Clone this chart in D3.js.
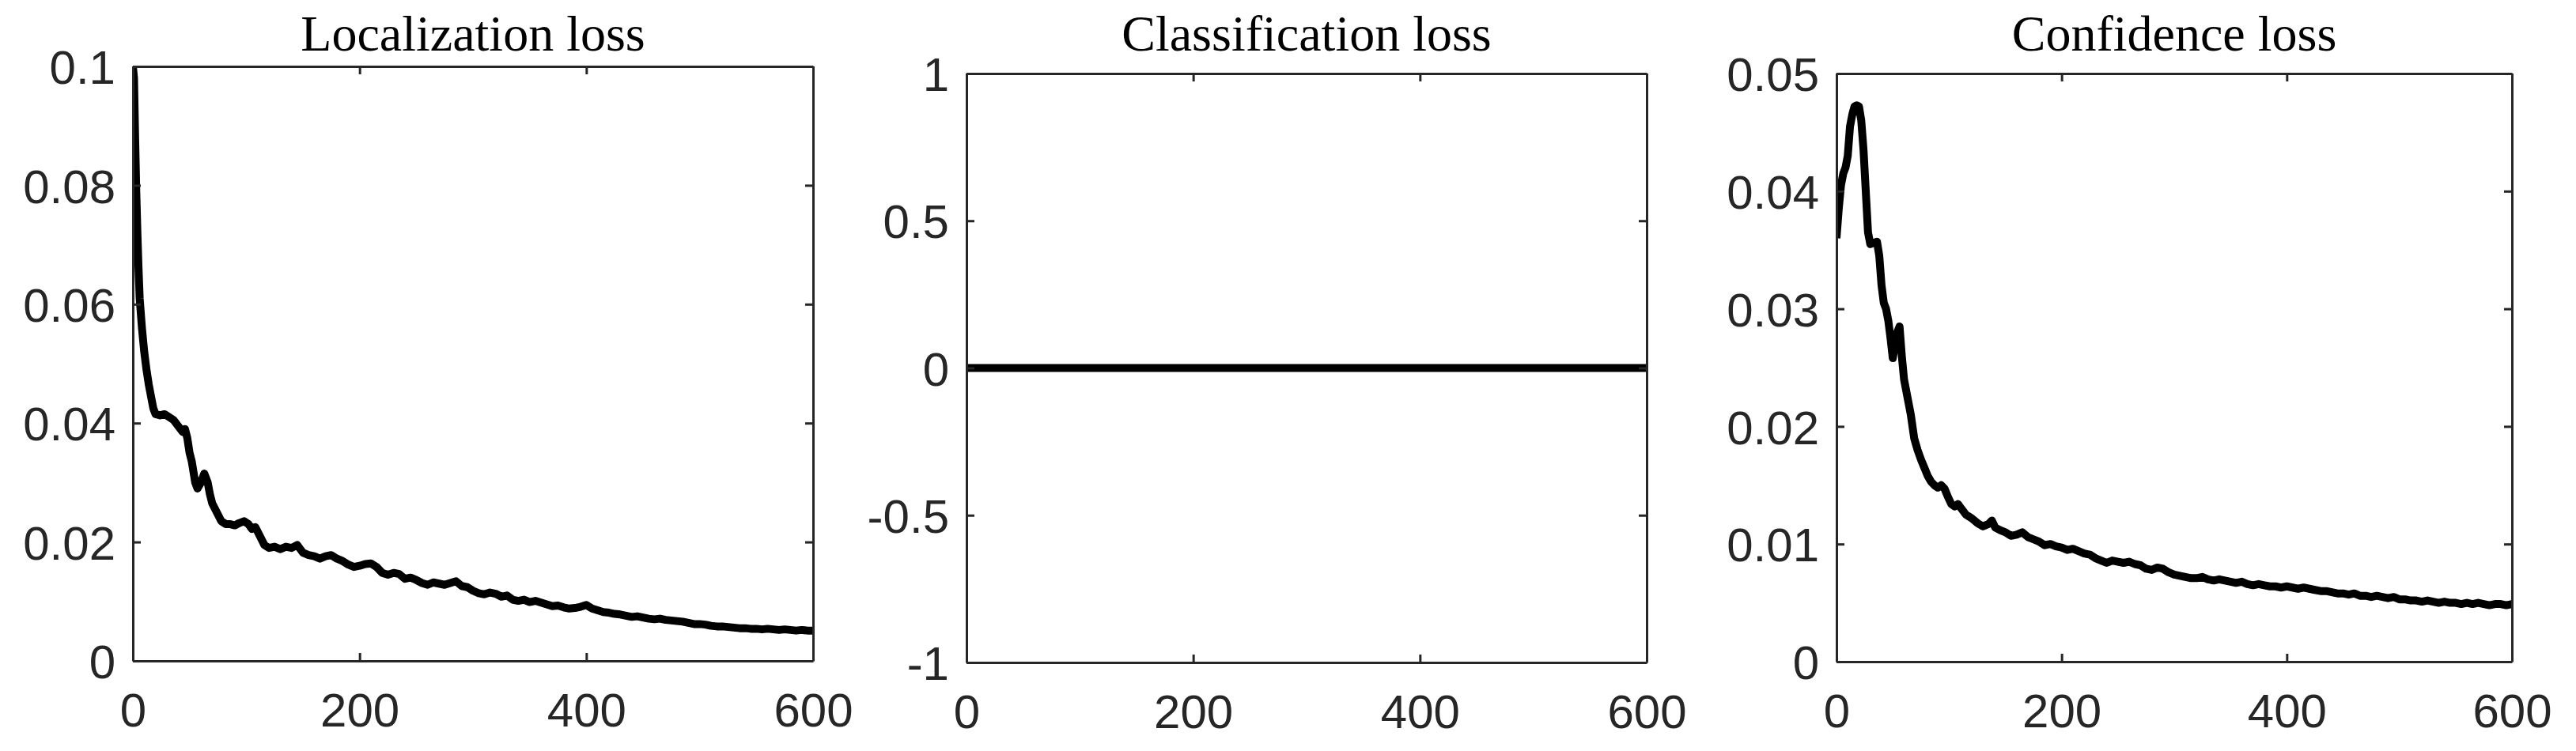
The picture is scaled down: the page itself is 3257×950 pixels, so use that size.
<!DOCTYPE html>
<html>
<head>
<meta charset="utf-8">
<script src="https://cdn.jsdelivr.net/npm/d3@7"></script>
<style>
  html, body { margin: 0; padding: 0; background: #fff; }
  svg { display: block; }
</style>
</head>
<body>
<svg id="chart" width="3257" height="950"></svg>
<script>
// ---------------- DATA ----------------
const titles = ["Localization loss", "Classification loss", "Confidence loss"];

const xTicks = [0, 200, 400, 600];
const xTickLabels = ["0", "200", "400", "600"];

const locYTicks = [0, 0.02, 0.04, 0.06, 0.08, 0.1];
const locYTickLabels = ["0", "0.02", "0.04", "0.06", "0.08", "0.1"];
const clsYTicks = [-1, -0.5, 0, 0.5, 1];
const clsYTickLabels = ["-1", "-0.5", "0", "0.5", "1"];
const confYTicks = [0, 0.01, 0.02, 0.03, 0.04, 0.05];
const confYTickLabels = ["0", "0.01", "0.02", "0.03", "0.04", "0.05"];

const locIter = [0,1,2,3,4,5,6,8,10,12,14,16,18,20,24,28,32,36,40,44,46,48,50,52,55,57,60,63,66,68,70,74,78,82,86,90,94,98,102,105,108,112,116,120,125,130,135,140,145,150,155,160,165,170,175,180,185,190,195,200,205,210,215,220,225,230,235,240,245,250,255,260,265,270,275,280,285,290,295,300,305,310,315,320,325,330,335,340,345,350,355,360,365,370,375,380,385,390,395,400,405,410,415,420,425,430,435,440,445,450,455,460,465,470,475,480,485,490,495,500,505,510,515,520,525,530,535,540,545,550,555,560,565,570,575,580,585,590,595,600];
const locLoss = [0.1,0.098,0.088,0.079,0.072,0.066,0.061,0.056,0.052,0.049,0.0465,0.0445,0.0425,0.0415,0.0413,0.0415,0.041,0.0405,0.0395,0.0385,0.039,0.0375,0.035,0.0335,0.030,0.029,0.030,0.0315,0.030,0.028,0.0265,0.025,0.0235,0.023,0.023,0.0228,0.0232,0.0235,0.023,0.0222,0.0225,0.021,0.0195,0.019,0.0192,0.0188,0.0192,0.019,0.0195,0.0182,0.0178,0.0176,0.0172,0.0176,0.0178,0.0172,0.0168,0.0162,0.0158,0.016,0.0163,0.0164,0.0158,0.0148,0.0145,0.0148,0.0146,0.0138,0.014,0.0136,0.0131,0.0128,0.0132,0.013,0.0128,0.0131,0.0134,0.0126,0.0124,0.0118,0.0114,0.0112,0.0115,0.0113,0.0108,0.0110,0.0103,0.0101,0.0103,0.0099,0.0101,0.0098,0.0095,0.0092,0.0093,0.009,0.0088,0.0089,0.0091,0.0094,0.0088,0.0085,0.0082,0.0081,0.0079,0.0078,0.0076,0.0074,0.0075,0.0073,0.0071,0.0070,0.0071,0.0069,0.0068,0.0067,0.0066,0.0064,0.0062,0.0062,0.0061,0.0059,0.0058,0.0058,0.0057,0.0056,0.0055,0.0055,0.0054,0.0054,0.0053,0.0054,0.0053,0.0052,0.0053,0.0052,0.0051,0.0052,0.0051,0.0051];

const clsIter = [0, 100, 200, 300, 400, 500, 600];
const clsLoss = [0, 0, 0, 0, 0, 0, 0];

const confIter = [0,2,4,6,8,10,12,14,16,18,20,22,24,26,28,30,33,36,38,40,42,44,46,48,50,52,54,56,58,60,63,66,69,72,75,78,81,84,87,90,93,96,99,102,105,108,111,115,120,125,130,135,138,141,145,150,155,160,165,170,175,180,185,190,195,200,205,210,215,220,225,230,235,240,245,250,255,260,265,270,275,280,285,290,295,300,305,310,315,320,325,330,335,340,345,350,355,360,365,370,375,380,385,390,395,400,405,410,415,420,425,430,435,440,445,450,455,460,465,470,475,480,485,490,495,500,505,510,515,520,525,530,535,540,545,550,555,560,565,570,575,580,585,590,595,600];
const confLoss = [0.036,0.0385,0.0405,0.0415,0.042,0.043,0.0455,0.0465,0.0472,0.0473,0.0472,0.046,0.0435,0.040,0.0365,0.0355,0.0356,0.0357,0.0345,0.032,0.0305,0.030,0.029,0.0275,0.0258,0.027,0.028,0.0285,0.026,0.024,0.0225,0.021,0.019,0.018,0.0172,0.0165,0.0158,0.0153,0.015,0.0148,0.0150,0.0147,0.014,0.0134,0.0132,0.0134,0.013,0.0125,0.0122,0.0118,0.0115,0.0117,0.0120,0.0114,0.0112,0.0110,0.0107,0.0108,0.0110,0.0106,0.0104,0.0102,0.0099,0.0100,0.0098,0.0097,0.0095,0.0096,0.0094,0.0092,0.0091,0.0088,0.0086,0.0084,0.0086,0.0085,0.0084,0.0085,0.0083,0.0082,0.0079,0.0078,0.0080,0.0079,0.0076,0.0074,0.0073,0.0072,0.0071,0.0071,0.0072,0.0070,0.0069,0.0070,0.0069,0.0068,0.0067,0.0068,0.0066,0.0065,0.0066,0.0065,0.0064,0.0064,0.0063,0.0064,0.0063,0.0062,0.0063,0.0062,0.0061,0.0060,0.0060,0.0059,0.0058,0.0058,0.0057,0.0058,0.0056,0.0056,0.0055,0.0056,0.0055,0.0054,0.0055,0.0053,0.0053,0.0052,0.0052,0.0051,0.0052,0.0051,0.0050,0.0051,0.0050,0.0050,0.0049,0.0050,0.0049,0.0050,0.0049,0.0048,0.0049,0.0049,0.0048,0.0049];

// ---------------- LAYOUT ----------------
const panels = [
  { title: titles[0], x0: 168, x1: 1028, y0: 84, y1: 836, yDomain: [0, 0.1],
    yTicks: locYTicks, yLabels: locYTickLabels, xs: locIter, ys: locLoss },
  { title: titles[1], x0: 1222, x1: 2082, y0: 93, y1: 838, yDomain: [-1, 1],
    yTicks: clsYTicks, yLabels: clsYTickLabels, xs: clsIter, ys: clsLoss },
  { title: titles[2], x0: 2322, x1: 3176, y0: 93, y1: 837, yDomain: [0, 0.05],
    yTicks: confYTicks, yLabels: confYTickLabels, xs: confIter, ys: confLoss }
];

const axisColor = "#262626";
const tickFont = "'Liberation Sans', Arial, Helvetica, sans-serif";
const titleFont = "'Liberation Serif', 'Times New Roman', Times, serif";
const tickSize = 60;
const titleSize = 64;
const tickLen = 10;

const svg = d3.select("#chart");

panels.forEach((p, i) => {
  const x = d3.scaleLinear().domain([0, 600]).range([p.x0, p.x1]);
  const y = d3.scaleLinear().domain(p.yDomain).range([p.y1, p.y0]);
  const g = svg.append("g");

  const clipId = "clip" + i;
  svg.append("defs").append("clipPath").attr("id", clipId)
    .append("rect").attr("x", p.x0).attr("y", p.y0)
    .attr("width", p.x1 - p.x0).attr("height", p.y1 - p.y0);

  // data line
  const line = d3.line().x((d, k) => x(p.xs[k])).y(d => y(d));
  g.append("path")
    .datum(p.ys)
    .attr("clip-path", `url(#${clipId})`)
    .attr("fill", "none")
    .attr("stroke", "#000")
    .attr("stroke-width", 10)
    .attr("stroke-linejoin", "round")
    .attr("d", line);

  // axes with inward ticks on all four sides
  const fmtX = (d) => xTickLabels[xTicks.indexOf(d)];
  const fmtY = (d) => p.yLabels[p.yTicks.indexOf(d)];

  const bottom = g.append("g").attr("transform", `translate(0,${p.y1})`)
    .call(d3.axisBottom(x).tickValues(xTicks).tickFormat(fmtX).tickSizeInner(-tickLen).tickSizeOuter(0).tickPadding(0));
  const top = g.append("g").attr("transform", `translate(0,${p.y0})`)
    .call(d3.axisTop(x).tickValues(xTicks).tickFormat("").tickSizeInner(-tickLen).tickSizeOuter(0));
  const left = g.append("g").attr("transform", `translate(${p.x0},0)`)
    .call(d3.axisLeft(y).tickValues(p.yTicks).tickFormat(fmtY).tickSizeInner(-tickLen).tickSizeOuter(0).tickPadding(0));
  const right = g.append("g").attr("transform", `translate(${p.x1},0)`)
    .call(d3.axisRight(y).tickValues(p.yTicks).tickFormat("").tickSizeInner(-tickLen).tickSizeOuter(0));

  [bottom, top, left, right].forEach(a => {
    a.select(".domain").attr("stroke", axisColor).attr("stroke-width", 3);
    a.selectAll(".tick line").attr("stroke", axisColor).attr("stroke-width", 3);
    a.selectAll("text").attr("fill", axisColor)
      .style("font-family", tickFont).style("font-size", tickSize + "px");
  });
  bottom.selectAll(".tick text").attr("y", 0).attr("dy", null)
    .attr("transform", "translate(0,83)");
  left.selectAll(".tick text").attr("x", -22).attr("dy", "0.36em");

  // title
  g.append("text")
    .attr("x", (p.x0 + p.x1) / 2)
    .attr("y", 64)
    .attr("text-anchor", "middle")
    .attr("fill", "#000")
    .style("font-family", titleFont)
    .style("font-size", titleSize + "px")
    .text(p.title);
});
</script>
</body>
</html>
